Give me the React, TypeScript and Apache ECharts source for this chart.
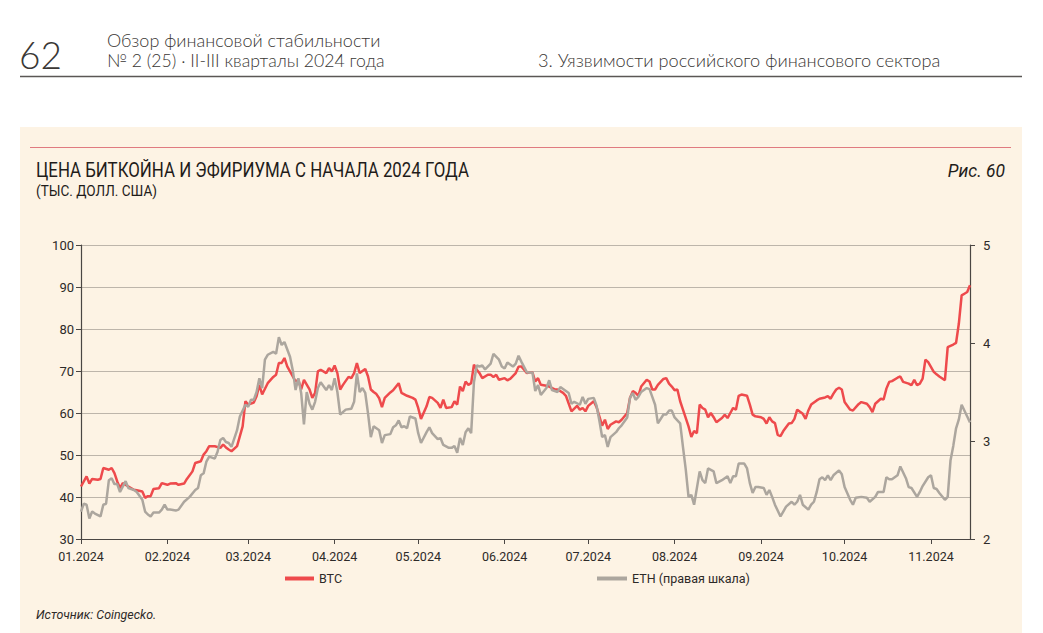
import React, { useEffect, useRef } from "react";
import * as echarts from "echarts";

// Tick labels of the x axis and the day offsets (from 01.01.2024) where each month begins
const monthLabels = ["01.2024", "02.2024", "03.2024", "04.2024", "05.2024", "06.2024", "07.2024", "08.2024", "09.2024", "10.2024", "11.2024"];
const monthStartDays = [0, 31, 60, 91, 121, 152, 182, 213, 244, 274, 305];
const lastDay = 319; // 15.11.2024

// BTC, thousand USD (left axis); x = days since 01.01.2024
const btcDays = [0, 2, 3, 4, 6, 7, 8, 10, 11, 12, 13, 14, 15, 17, 19, 20, 22, 23, 24, 25, 26, 28, 29, 31, 32, 34, 35, 37, 38, 40, 41, 43, 44, 45, 46, 48, 50, 51, 52, 53, 54, 56, 58, 59, 60, 62, 63, 64, 65, 67, 69, 70, 71, 72, 73, 74, 76, 77, 78, 79, 80, 82, 83, 84, 85, 86, 88, 89, 90, 91, 92, 93, 94, 96, 97, 98, 99, 100, 102, 103, 104, 105, 106, 107, 108, 109, 111, 112, 114, 115, 117, 119, 120, 121, 122, 124, 125, 126, 128, 129, 130, 131, 133, 134, 135, 136, 137, 138, 139, 140, 141, 142, 143, 144, 146, 147, 148, 149, 150, 152, 153, 154, 156, 157, 158, 159, 160, 161, 162, 163, 164, 165, 167, 168, 170, 171, 173, 174, 176, 178, 179, 180, 181, 182, 184, 185, 186, 187, 188, 189, 190, 192, 193, 194, 196, 197, 198, 199, 200, 201, 203, 204, 205, 206, 207, 209, 210, 211, 212, 213, 214, 215, 216, 218, 219, 220, 221, 222, 223, 224, 225, 226, 227, 228, 230, 231, 232, 233, 234, 235, 236, 237, 239, 240, 241, 242, 244, 245, 246, 247, 248, 249, 250, 251, 252, 254, 255, 256, 257, 259, 260, 261, 262, 264, 265, 267, 268, 269, 270, 271, 272, 273, 274, 276, 277, 279, 280, 282, 283, 284, 285, 287, 288, 289, 290, 291, 293, 294, 295, 297, 298, 299, 300, 301, 302, 303, 304, 306, 307, 308, 310, 311, 313, 314, 315, 316, 317, 318, 319];
const btcValues = [42.5, 44.9, 43.2, 44.3, 44.1, 44.3, 46.9, 46.5, 46.9, 45.7, 43.7, 42.1, 43.3, 42.5, 41.7, 41.6, 41.3, 39.8, 40.2, 40.2, 41.9, 42.1, 43.3, 42.9, 43.2, 43.3, 42.9, 43.2, 44.3, 46.1, 48.1, 48.5, 50.1, 50.9, 52.1, 52.1, 51.7, 52.5, 51.8, 51.3, 50.9, 52.1, 56.8, 62.8, 62.0, 62.5, 64.0, 66.7, 64.4, 67.1, 68.6, 69.1, 71.9, 71.9, 73.1, 71.1, 68.7, 67.5, 67.9, 65.6, 67.9, 65.6, 63.6, 64.8, 69.9, 70.3, 69.5, 70.7, 69.9, 71.3, 69.5, 65.6, 66.7, 68.6, 68.3, 69.5, 71.9, 69.5, 70.5, 68.7, 65.6, 65.0, 64.5, 63.5, 61.4, 63.6, 64.9, 65.4, 67.1, 64.8, 64.1, 63.6, 63.2, 61.2, 58.6, 61.6, 63.8, 63.6, 62.4, 61.2, 63.2, 61.2, 61.4, 62.8, 62.0, 66.3, 65.2, 67.5, 66.7, 67.1, 71.5, 70.3, 69.5, 68.3, 69.1, 69.1, 68.6, 69.1, 67.9, 68.3, 67.8, 68.1, 69.5, 71.0, 71.1, 70.3, 69.5, 69.7, 69.7, 67.5, 68.3, 66.7, 66.5, 66.3, 65.6, 65.6, 64.8, 64.1, 60.4, 61.7, 60.8, 61.2, 60.4, 61.7, 62.8, 61.4, 59.2, 57.0, 58.4, 56.2, 57.2, 58.0, 57.8, 58.4, 60.0, 63.6, 65.2, 64.8, 64.1, 66.3, 67.9, 67.5, 65.6, 65.6, 66.7, 68.1, 68.3, 67.0, 66.3, 65.4, 65.6, 62.8, 60.8, 56.8, 54.3, 55.7, 55.2, 62.0, 61.2, 60.8, 59.0, 60.0, 59.0, 57.8, 58.8, 59.6, 58.8, 60.0, 61.2, 60.8, 64.1, 64.4, 64.1, 62.0, 59.6, 59.2, 59.0, 58.6, 57.5, 59.0, 58.0, 57.6, 54.8, 54.5, 55.7, 57.5, 57.6, 58.6, 60.8, 59.8, 58.6, 60.6, 62.0, 63.0, 63.4, 63.7, 64.0, 63.4, 64.6, 65.6, 66.0, 65.6, 62.6, 60.8, 60.6, 62.1, 62.6, 62.2, 61.4, 60.2, 62.2, 63.4, 63.2, 65.8, 67.4, 67.6, 68.4, 68.7, 67.4, 67.0, 66.6, 67.9, 66.6, 67.0, 68.2, 72.7, 72.1, 69.8, 69.2, 68.7, 67.8, 75.7, 76.3, 76.7, 81.3, 88.0, 88.4, 88.8, 90.4];

// ETH, thousand USD (right axis); x = days since 01.01.2024
const ethDays = [0, 1, 2, 3, 4, 5, 7, 8, 9, 10, 11, 12, 13, 14, 16, 17, 19, 20, 22, 23, 24, 25, 26, 28, 29, 30, 31, 32, 34, 35, 37, 39, 41, 42, 43, 44, 45, 46, 48, 49, 50, 51, 52, 53, 54, 56, 57, 59, 60, 61, 62, 63, 64, 65, 66, 67, 69, 70, 71, 72, 73, 75, 76, 77, 78, 79, 80, 81, 82, 83, 84, 85, 86, 88, 89, 90, 91, 92, 93, 95, 97, 98, 99, 100, 101, 102, 103, 104, 105, 106, 107, 108, 109, 111, 112, 113, 114, 115, 116, 117, 118, 120, 121, 122, 124, 125, 126, 128, 129, 130, 132, 133, 134, 135, 136, 137, 138, 139, 140, 141, 142, 143, 144, 145, 147, 148, 150, 151, 152, 153, 155, 156, 157, 158, 160, 161, 162, 163, 164, 165, 167, 168, 169, 171, 172, 173, 175, 176, 177, 179, 180, 181, 182, 184, 185, 186, 187, 188, 189, 190, 192, 193, 194, 196, 197, 198, 199, 200, 201, 203, 204, 205, 206, 207, 209, 210, 211, 212, 213, 215, 216, 217, 218, 219, 220, 222, 223, 224, 225, 227, 228, 230, 232, 233, 234, 235, 236, 238, 239, 240, 241, 242, 243, 245, 246, 247, 248, 249, 251, 252, 253, 255, 256, 257, 258, 259, 261, 262, 263, 264, 265, 266, 267, 268, 269, 270, 272, 273, 274, 276, 277, 278, 280, 282, 283, 285, 286, 288, 289, 290, 291, 293, 294, 296, 297, 298, 300, 301, 302, 304, 305, 306, 307, 308, 310, 311, 312, 313, 314, 315, 316, 318, 319];
const ethValues = [2.28, 2.36, 2.35, 2.21, 2.28, 2.26, 2.23, 2.35, 2.36, 2.60, 2.62, 2.56, 2.56, 2.48, 2.59, 2.52, 2.50, 2.48, 2.40, 2.28, 2.25, 2.23, 2.27, 2.27, 2.30, 2.35, 2.30, 2.30, 2.29, 2.30, 2.38, 2.43, 2.50, 2.52, 2.65, 2.67, 2.79, 2.84, 2.82, 2.89, 3.01, 3.03, 2.99, 2.98, 2.94, 3.11, 3.25, 3.37, 3.35, 3.42, 3.42, 3.50, 3.64, 3.54, 3.83, 3.88, 3.91, 3.89, 4.06, 3.98, 4.01, 3.86, 3.72, 3.52, 3.64, 3.49, 3.17, 3.50, 3.38, 3.32, 3.40, 3.54, 3.60, 3.52, 3.57, 3.52, 3.64, 3.50, 3.27, 3.32, 3.33, 3.40, 3.69, 3.50, 3.54, 3.49, 3.28, 3.04, 3.15, 3.13, 3.11, 2.98, 3.06, 3.07, 3.14, 3.16, 3.21, 3.14, 3.15, 3.13, 3.25, 3.23, 3.08, 2.98, 3.09, 3.14, 3.08, 3.02, 3.03, 2.96, 2.93, 2.93, 2.95, 2.88, 3.03, 2.96, 3.09, 3.13, 3.08, 3.60, 3.77, 3.76, 3.77, 3.73, 3.79, 3.89, 3.83, 3.76, 3.74, 3.80, 3.76, 3.79, 3.87, 3.81, 3.70, 3.70, 3.70, 3.51, 3.57, 3.47, 3.54, 3.62, 3.52, 3.50, 3.55, 3.53, 3.49, 3.38, 3.40, 3.37, 3.45, 3.38, 3.43, 3.44, 3.36, 3.21, 3.04, 3.06, 2.94, 3.04, 3.09, 3.13, 3.16, 3.24, 3.44, 3.49, 3.42, 3.45, 3.50, 3.54, 3.53, 3.45, 3.37, 3.18, 3.27, 3.27, 3.31, 3.31, 3.24, 3.18, 2.94, 2.71, 2.43, 2.45, 2.35, 2.69, 2.60, 2.57, 2.72, 2.69, 2.57, 2.60, 2.64, 2.57, 2.64, 2.64, 2.77, 2.77, 2.72, 2.57, 2.47, 2.53, 2.53, 2.52, 2.45, 2.50, 2.43, 2.35, 2.23, 2.28, 2.33, 2.38, 2.35, 2.38, 2.45, 2.35, 2.30, 2.35, 2.38, 2.48, 2.61, 2.63, 2.60, 2.65, 2.60, 2.65, 2.70, 2.66, 2.53, 2.40, 2.35, 2.42, 2.43, 2.42, 2.38, 2.43, 2.48, 2.48, 2.63, 2.61, 2.61, 2.65, 2.74, 2.62, 2.53, 2.52, 2.43, 2.48, 2.54, 2.63, 2.65, 2.52, 2.51, 2.47, 2.40, 2.43, 2.80, 2.95, 3.13, 3.22, 3.37, 3.25, 3.19];

const seriesNames = ["BTC", "ETH (правая шкала)"];

const RED = "#ee4a4c";
const GRAY = "#aca69e";
const AXIS = "#4a4643";
const GRID = "#bdb5aa";
const SANS = "Roboto, sans-serif";
const LIGHT = "Lato, 'Open Sans', sans-serif";

export default function App() {
  const ref = useRef<HTMLDivElement>(null);

  useEffect(() => {
    if (!ref.current) return;
    const chart = echarts.init(ref.current, null, { renderer: "svg" });

    const labelMap = new Map<number, string>();
    monthStartDays.forEach((d, i) => labelMap.set(d, monthLabels[i]));

    const btcData = btcDays.map((d, i) => [d, btcValues[i]]);
    const ethData = ethDays.map((d, i) => [d, ethValues[i]]);

    const txt = (
      x: number,
      y: number,
      text: string,
      size: number,
      family: string,
      scaleX: number,
      extra: Record<string, any> = {}
    ) => ({
      type: "text",
      x,
      y,
      scaleX,
      silent: true,
      style: {
        text,
        fill: "#2d2a28",
        fontSize: size,
        fontFamily: family,
        textAlign: "left",
        textVerticalAlign: "middle",
        ...extra,
      },
    });

    chart.setOption({
      animation: false,
      backgroundColor: "#ffffff",
      graphic: [
        { type: "rect", silent: true, z: -10, shape: { x: 20, y: 127, width: 1002, height: 506 }, style: { fill: "#fdf3e4" } },
        { type: "line", silent: true, shape: { x1: 20, y1: 76.5, x2: 1022, y2: 76.5 }, style: { stroke: "#5a5755", lineWidth: 1.5 } },
        { type: "line", silent: true, shape: { x1: 30, y1: 147.5, x2: 1011, y2: 147.5 }, style: { stroke: "#e07a80", lineWidth: 1 } },
        txt(19, 54, "62", 37, LIGHT, 1, { fontWeight: 300, fill: "#3a3735" }),
        txt(107, 40, "Обзор финансовой стабильности", 18, LIGHT, 1, { fontWeight: 300, fill: "#3a3735" }),
        txt(107, 60, "№ 2 (25) · II-III кварталы 2024 года", 18, LIGHT, 0.98, { fontWeight: 300, fill: "#3a3735" }),
        txt(538, 60, "3. Уязвимости российского финансового сектора", 18, LIGHT, 1.01, { fontWeight: 300, fill: "#3a3735" }),
        txt(36, 170, "ЦЕНА БИТКОЙНА И ЭФИРИУМА С НАЧАЛА 2024 ГОДА", 19.5, SANS, 0.864, { fill: "#1f1c1a" }),
        txt(36, 191, "(ТЫС. ДОЛЛ. США)", 15, SANS, 0.905, { fill: "#1f1c1a" }),
        txt(1005, 170, "Рис. 60", 19, SANS, 0.92, { fill: "#1f1c1a", fontStyle: "italic", textAlign: "right" }),
        txt(36, 614, "Источник: Coingecko.", 13.5, SANS, 0.92, { fill: "#2d2a28", fontStyle: "italic" }),
      ],
      legend: [
        {
          data: [seriesNames[0]],
          left: 285,
          top: 572,
          padding: 0,
          icon: "rect",
          itemWidth: 29,
          itemHeight: 4,
          itemGap: 0,
          textStyle: { color: "#2d2a28", fontSize: 12.5, fontFamily: SANS },
          selectedMode: false,
        },
        {
          data: [seriesNames[1]],
          left: 597,
          top: 572,
          padding: 0,
          icon: "rect",
          itemWidth: 30,
          itemHeight: 4,
          itemGap: 0,
          textStyle: { color: "#2d2a28", fontSize: 12.5, fontFamily: SANS },
          selectedMode: false,
        },
      ],
      grid: { left: 81, right: 73, top: 245, bottom: 94, containLabel: false },
      xAxis: {
        type: "value",
        min: 0,
        max: lastDay,
        axisLine: { show: true, lineStyle: { color: AXIS, width: 1.2 } },
        axisTick: { show: true, length: 5, customValues: monthStartDays, lineStyle: { color: AXIS } },
        axisLabel: {
          customValues: monthStartDays,
          formatter: (v: number) => labelMap.get(v) ?? "",
          color: "#2d2a28",
          fontSize: 12.5,
          fontFamily: SANS,
          margin: 11,
          showMinLabel: true,
          showMaxLabel: true,
        },
        splitLine: { show: false },
      },
      yAxis: [
        {
          type: "value",
          position: "left",
          min: 30,
          max: 100,
          interval: 10,
          axisLine: { show: true, lineStyle: { color: AXIS, width: 1.2 } },
          axisTick: { show: true, length: 5, lineStyle: { color: AXIS } },
          axisLabel: { color: "#2d2a28", fontSize: 13, fontFamily: SANS, margin: 7 },
          splitLine: { show: true, lineStyle: { color: GRID, width: 1 } },
        },
        {
          type: "value",
          position: "right",
          min: 2,
          max: 5,
          interval: 1,
          axisLine: { show: true, lineStyle: { color: AXIS, width: 1.2 } },
          axisTick: { show: true, length: 5, lineStyle: { color: AXIS } },
          axisLabel: { color: "#2d2a28", fontSize: 13, fontFamily: SANS, margin: 13 },
          splitLine: { show: false },
        },
      ],
      series: [
        {
          name: seriesNames[0],
          type: "line",
          yAxisIndex: 0,
          data: btcData,
          showSymbol: false,
          symbol: "none",
          lineStyle: { color: RED, width: 2.5 },
          itemStyle: { color: RED },
          z: 3,
        },
        {
          name: seriesNames[1],
          type: "line",
          yAxisIndex: 1,
          data: ethData,
          showSymbol: false,
          symbol: "none",
          lineStyle: { color: GRAY, width: 2.5 },
          itemStyle: { color: GRAY },
          z: 4,
        },
      ],
    });

    return () => chart.dispose();
  }, []);

  return (
    <div
      ref={ref}
      style={{ position: "fixed", left: 0, top: 0, width: 1043, height: 633 }}
    />
  );
}
